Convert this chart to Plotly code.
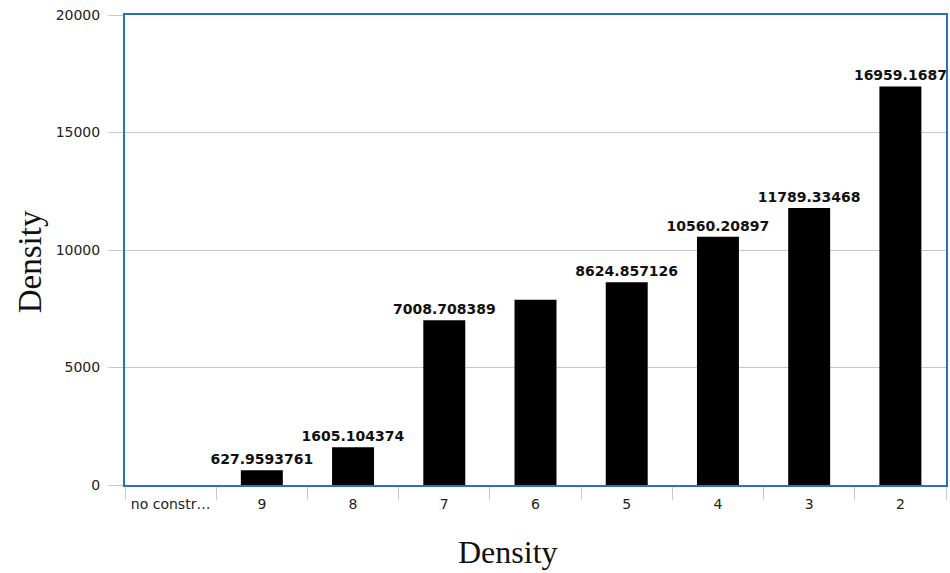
import plotly.graph_objects as go

categories = ["no constr…", "9", "8", "7", "6", "5", "4", "3", "2"]
values = [0, 627.9593761, 1605.104374, 7008.708389, 7880, 8624.857126, 10560.20897, 11789.33468, 16959.1687]
labels = ["", "627.9593761", "1605.104374", "7008.708389", "", "8624.857126", "10560.20897", "11789.33468", "16959.1687"]
y_ticks = [0, 5000, 10000, 15000, 20000]
y_tick_text = ["0", "5000", "10000", "15000", "20000"]

SANS = "DejaVu Sans"
label_font = dict(family=SANS, size=14, color="#111111", weight="bold")

fig = go.Figure()
fig.add_trace(go.Bar(
    x=categories, y=values, text=labels,
    textposition="outside", cliponaxis=True, constraintext="none",
    textfont=label_font, outsidetextfont=label_font,
    marker=dict(color="black", line=dict(width=0)),
    width=0.46,
))

fig.update_layout(
    width=950, height=573,
    margin=dict(l=125, r=2, t=15, b=88),
    plot_bgcolor="white", paper_bgcolor="white",
    showlegend=False,
    font=dict(family=SANS, size=14, color="#222222"),
)
fig.update_xaxes(
    type="category", tickson="boundaries", tickangle=0,
    ticks="outside", ticklen=13, tickcolor="#c8c8c8", tickwidth=1,
    ticklabelstandoff=5,
    showline=True, linecolor="#2a72b5", linewidth=2, mirror=True,
    showgrid=False,
    tickfont=dict(family=SANS, size=14, color="#222222"),
)
fig.update_yaxes(
    range=[0, 20000], tickvals=y_ticks, ticktext=y_tick_text,
    ticks="outside", ticklen=15, tickcolor="#c8c8c8",
    ticklabelstandoff=5,
    showline=True, linecolor="#2a72b5", linewidth=2, mirror=True,
    showgrid=True, gridcolor="#c8c8c8", gridwidth=1,
    zeroline=False,
    tickfont=dict(family=SANS, size=14, color="#222222"),
)

fig.add_annotation(text="Density", xref="paper", yref="paper", x=(509 - 125) / 823, y=-(552 - 485) / 470,
                   xanchor="center", yanchor="middle", showarrow=False,
                   font=dict(family="Liberation Serif", size=32, color="#111111"))
fig.add_annotation(text="Density", xref="paper", yref="paper", x=-(125 - 30) / 823, y=(485 - 262) / 470,
                   xanchor="center", yanchor="middle", showarrow=False, textangle=-90,
                   font=dict(family="Liberation Serif", size=33, color="#111111"))

fig.write_html("out.html")
